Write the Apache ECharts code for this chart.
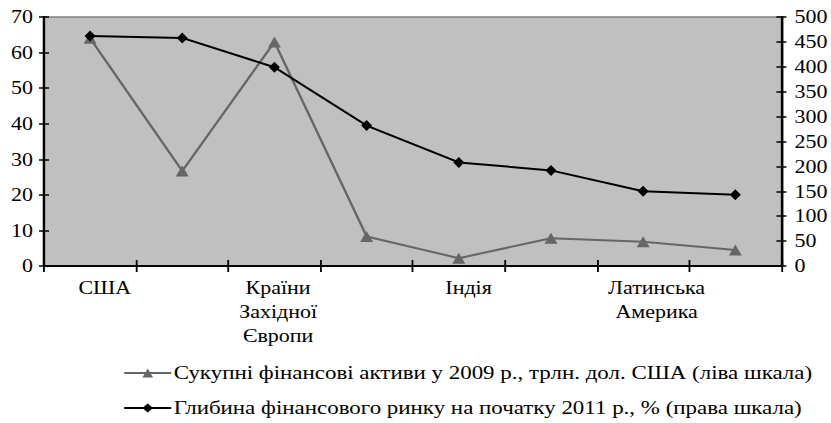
<!DOCTYPE html>
<html>
<head>
<meta charset="utf-8">
<script src="https://cdn.jsdelivr.net/npm/echarts@6/dist/echarts.min.js"></script>
<style>
  html, body { margin: 0; padding: 0; background: #ffffff; overflow: hidden; }
  /* the chart is laid out narrow and widened horizontally, like the wide serif type of the original */
  #chart { width: 681px; height: 423px; transform: scaleX(1.2203); transform-origin: 0 0; }
</style>
</head>
<body>
<div id="chart"></div>
<script>
// Regions (only every other name is printed on the axis)
const categories = ['США', '', 'Країни\nЗахідної\nЄвропи', '', 'Індія', '', 'Латинська\nАмерика', ''];

// Total financial assets in 2009, trillion USD (left scale)
const assets = [64, 26.7, 63, 8.3, 2.2, 7.8, 6.8, 4.5];
const assetsName = 'Сукупні фінансові активи у 2009 р., трлн. дол. США (ліва шкала)';

// Financial market depth at the start of 2011, % (right scale)
const depth = [462, 458, 399, 282, 208, 192, 150, 143];
const depthName = 'Глибина фінансового ринку на початку 2011 р., % (права шкала)';

// Axis scales
const leftAxis = { min: 0, max: 70, interval: 10 };
const rightAxis = { min: 0, max: 500, interval: 50 };

// Horizontal nudges of the category labels (px, before widening)
const labelShift = [12, 0, 3, 0, 8, 0, 11, 0];

const SX = 1.2203;            // horizontal widening factor of the page
const px = v => v / SX;       // convert a final x distance to layout units
const FONT = "'Liberation Serif', 'Times New Roman', serif";
const FS = 18;
const LEGEND_FS = 18.8;

const chart = echarts.init(document.getElementById('chart'), null, { renderer: 'svg' });

const tickStyle = { color: '#000', width: 1.5 };

const axisData = categories.map((name, i) => ({
  value: name,
  textStyle: { padding: [0, 0, 0, 2 * labelShift[i]] }
}));

// one legend row per series, stacked under the plot
const legendRow = (name, top) => ({
  orient: 'horizontal',
  left: px(123),
  top: top,
  padding: 0,
  itemWidth: px(47),
  itemHeight: 11,
  textStyle: { fontFamily: FONT, fontSize: LEGEND_FS, lineHeight: 20, color: '#000', padding: [0, 0, 0, -3] },
  data: [name]
});

chart.setOption({
  backgroundColor: '#ffffff',
  animation: false,
  textStyle: { fontFamily: FONT, color: '#000' },
  grid: {
    left: px(44), right: px(47), top: 17, bottom: 157,
    show: true,
    backgroundColor: '#c0c0c0',
    borderColor: '#808080',
    borderWidth: 1.5
  },
  legend: [legendRow(assetsName, 363), legendRow(depthName, 398)],
  xAxis: [
    {
      type: 'category',
      data: axisData,
      boundaryGap: true,
      position: 'bottom',
      axisLine: { lineStyle: { color: '#000', width: 2 } },
      axisTick: { show: true, interval: 0, length: 6, lineStyle: tickStyle },
      axisLabel: {
        interval: 0, margin: 10, fontFamily: FONT, fontSize: FS, color: '#000',
        lineHeight: 24
      },
      splitLine: { show: false }
    },
    {
      // inward half of the crossing tick marks
      type: 'category',
      data: categories,
      boundaryGap: true,
      position: 'bottom',
      axisLine: { show: false },
      axisTick: { show: true, inside: true, interval: 0, length: 6, lineStyle: tickStyle },
      axisLabel: { show: false },
      splitLine: { show: false }
    }
  ],
  yAxis: [
    {
      type: 'value', position: 'left',
      min: leftAxis.min, max: leftAxis.max, interval: leftAxis.interval,
      axisLine: { show: true, lineStyle: { color: '#000', width: 2 } },
      axisTick: { show: true, length: px(5), lineStyle: tickStyle },
      axisLabel: { margin: px(11), fontFamily: FONT, fontSize: FS, color: '#000' },
      splitLine: { show: false }
    },
    {
      type: 'value', position: 'right',
      min: rightAxis.min, max: rightAxis.max, interval: rightAxis.interval,
      axisLine: { show: true, lineStyle: { color: '#000', width: 2 } },
      axisTick: { show: true, length: px(5), lineStyle: tickStyle },
      axisLabel: { margin: px(13), fontFamily: FONT, fontSize: FS, color: '#000' },
      splitLine: { show: false }
    },
    {
      type: 'value', position: 'left',
      min: leftAxis.min, max: leftAxis.max, interval: leftAxis.interval,
      axisLine: { show: false },
      axisTick: { show: true, inside: true, length: px(5), lineStyle: tickStyle },
      axisLabel: { show: false },
      splitLine: { show: false }
    },
    {
      type: 'value', position: 'right',
      min: rightAxis.min, max: rightAxis.max, interval: rightAxis.interval,
      axisLine: { show: false },
      axisTick: { show: true, inside: true, length: px(5), lineStyle: tickStyle },
      axisLabel: { show: false },
      splitLine: { show: false }
    }
  ],
  series: [
    {
      name: assetsName,
      type: 'line',
      xAxisIndex: 0,
      yAxisIndex: 0,
      data: assets,
      symbol: 'triangle',
      symbolSize: [px(13), 11],
      showAllSymbol: true,
      lineStyle: { color: '#666666', width: 2 },
      itemStyle: { color: '#666666', borderWidth: 0 },
      z: 2
    },
    {
      name: depthName,
      type: 'line',
      xAxisIndex: 0,
      yAxisIndex: 1,
      data: depth,
      symbol: 'diamond',
      symbolSize: [px(11), 11],
      showAllSymbol: true,
      lineStyle: { color: '#000000', width: 2 },
      itemStyle: { color: '#000000', borderWidth: 0 },
      z: 3
    }
  ]
});
</script>
</body>
</html>
